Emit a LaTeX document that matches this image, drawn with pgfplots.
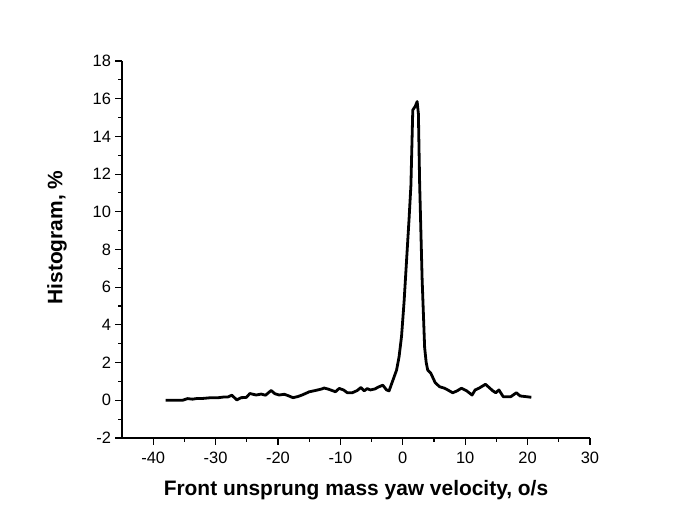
\documentclass[border=0pt]{standalone}
\usepackage{fontspec}
\setmainfont{Liberation Sans}
\usepackage{pgfplots}
\pgfplotsset{compat=1.18}
\begin{document}
\begin{tikzpicture}
\path[use as bounding box] (0,0) rectangle (686bp,525bp);
\begin{axis}[
  at={(122bp,87bp)}, anchor=south west,
  scale only axis, width=468bp, height=377bp,
  xmin=-45, xmax=30, ymin=-2, ymax=18,
  axis lines*=left,
  axis line style={line width=1.3bp},
  xtick={-40,-30,...,30}, ytick={-2,0,...,18},
  minor x tick num=1, minor y tick num=1,
  tick align=outside,
  major tick length=6.5bp, minor tick length=3.5bp,
  tick style={line width=1.1bp, black},
  /pgf/number format/assume math mode=true,
  ticklabel style={font=\fontsize{16.5}{18}\selectfont},
  xticklabel style={yshift=-4bp},
  yticklabel style={xshift=-1bp},
  xlabel={Front unsprung mass yaw velocity, o/s},
  ylabel={Histogram, \%},
  label style={font=\fontsize{21}{24}\selectfont\bfseries},
  xlabel style={at={(axis description cs:0.5,0)}, anchor=center, yshift=-52bp},
  ylabel style={at={(axis description cs:0,0.5)}, anchor=center, xshift=12bp, yshift=65bp},
  clip=false,
]
\addplot[black, line width=2.8bp, line join=round] coordinates {
(-38.0,0.0) (-35.3,0.0) (-34.5,0.09) (-33.7,0.06) (-32.9,0.1) (-32.0,0.1)
(-31.0,0.13) (-30.2,0.14) (-29.5,0.14) (-28.8,0.17) (-28.0,0.18) (-27.4,0.27)
(-26.6,0.02) (-25.9,0.14) (-25.1,0.15) (-24.5,0.36) (-23.5,0.28) (-22.7,0.33)
(-22.0,0.27) (-21.1,0.52) (-20.5,0.35) (-19.8,0.28) (-19.0,0.32) (-18.4,0.25)
(-17.6,0.14) (-16.8,0.2) (-16.0,0.3) (-15.0,0.45) (-14.0,0.52) (-13.0,0.6)
(-12.6,0.65) (-12.0,0.6) (-11.0,0.48) (-10.8,0.45) (-10.2,0.63) (-9.5,0.55)
(-8.9,0.4) (-8.1,0.4) (-7.3,0.52) (-6.7,0.68) (-6.2,0.5) (-5.7,0.62)
(-5.2,0.55) (-4.5,0.6) (-3.8,0.72) (-3.2,0.8) (-2.6,0.55) (-2.2,0.5)
(-1.6,1.05) (-1.0,1.6) (-0.6,2.3) (-0.2,3.4) (0.2,5.2) (0.6,7.4)
(1.0,9.6) (1.3,11.4) (1.6,15.4) (2.0,15.6) (2.3,15.85) (2.5,15.2)
(2.7,11.5) (3.1,6.4) (3.5,2.8) (3.75,2.0) (4.0,1.6) (4.5,1.43)
(5.2,0.93) (5.9,0.72) (6.7,0.64) (7.2,0.55) (8.0,0.4) (8.7,0.5)
(9.4,0.64) (10.2,0.51) (11.1,0.28) (11.6,0.55) (12.2,0.64) (13.25,0.85)
(14.4,0.51) (14.9,0.4) (15.4,0.55) (16.1,0.19) (17.3,0.19) (18.2,0.4)
(18.8,0.23) (19.6,0.2) (20.6,0.16)
};
\end{axis}
\end{tikzpicture}
\end{document}
